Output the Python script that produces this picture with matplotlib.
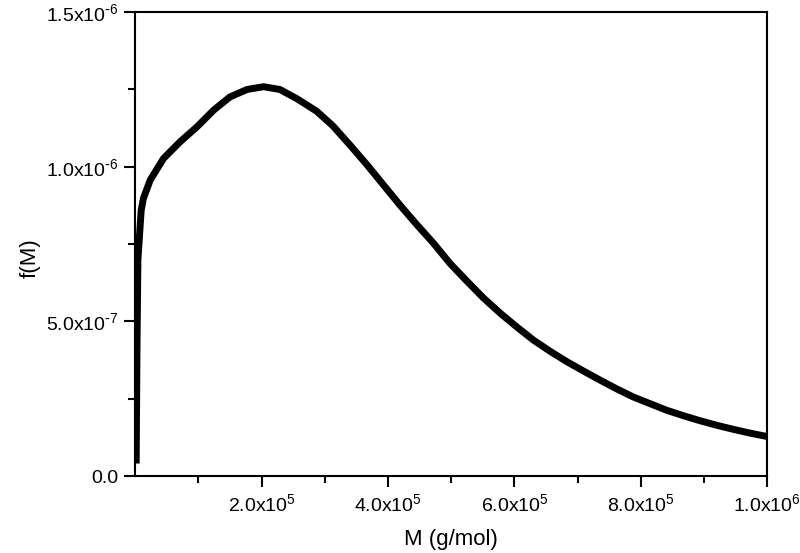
import matplotlib
matplotlib.use("Agg")
import matplotlib.pyplot as plt
from matplotlib.ticker import FixedLocator, FixedFormatter

# --- data (M in g/mol, f(M)) ---
M = [1.6e3, 2.8e3, 4.3e3, 9.5e3, 13e3, 23.7e3, 44.8e3, 71e3, 97.6e3, 124e3,
     150e3, 177e3, 203e3, 229e3, 256e3, 287e3, 313e3, 340e3, 367e3, 393e3,
     419e3, 446e3, 472e3, 498e3, 525e3, 551e3, 578e3, 604e3, 630e3, 657e3,
     683e3, 710e3, 736e3, 762e3, 788e3, 815e3, 841e3, 868e3, 894e3, 921e3,
     947e3, 973e3, 1000e3]
fM = [0.052e-6, 0.41e-6, 0.70e-6, 0.86e-6, 0.898e-6, 0.957e-6, 1.027e-6,
      1.081e-6, 1.129e-6, 1.183e-6, 1.226e-6, 1.250e-6, 1.259e-6, 1.250e-6,
      1.220e-6, 1.180e-6, 1.132e-6, 1.070e-6, 1.006e-6, 0.941e-6, 0.876e-6,
      0.812e-6, 0.753e-6, 0.688e-6, 0.630e-6, 0.576e-6, 0.526e-6, 0.482e-6,
      0.440e-6, 0.403e-6, 0.370e-6, 0.339e-6, 0.310e-6, 0.282e-6, 0.256e-6,
      0.234e-6, 0.213e-6, 0.195e-6, 0.179e-6, 0.164e-6, 0.151e-6, 0.139e-6,
      0.128e-6]

x_major = [2e5, 4e5, 6e5, 8e5, 1e6]
x_minor = [1e5, 3e5, 5e5, 7e5, 9e5]
x_labels = [r"2.0x10$^{5}$", r"4.0x10$^{5}$", r"6.0x10$^{5}$", r"8.0x10$^{5}$", r"1.0x10$^{6}$"]
y_major = [0, 5e-7, 1e-6, 1.5e-6]
y_minor = [2.5e-7, 7.5e-7, 1.25e-6]
y_labels = ["0.0", r"5.0x10$^{\text{-}7}$", r"1.0x10$^{\text{-}6}$", r"1.5x10$^{\text{-}6}$"]

plt.rcParams["font.family"] = ["Liberation Sans", "DejaVu Sans"]
plt.rcParams["mathtext.default"] = "regular"

fig = plt.figure(figsize=(8, 5.53), dpi=100)
ax = fig.add_axes([0.169, 0.139, 0.79, 0.839])

ax.plot(M, fM, color="black", linewidth=5, solid_joinstyle="round")

ax.set_xlim(0, 1e6)
ax.set_ylim(0, 1.5e-6)

ax.xaxis.set_major_locator(FixedLocator(x_major))
ax.xaxis.set_major_formatter(FixedFormatter(x_labels))
ax.xaxis.set_minor_locator(FixedLocator(x_minor))
ax.yaxis.set_major_locator(FixedLocator(y_major))
ax.yaxis.set_major_formatter(FixedFormatter(y_labels))
ax.yaxis.set_minor_locator(FixedLocator(y_minor))

ax.tick_params(which="both", direction="out", width=1.5, labelsize=14,
               top=False, right=False)
ax.tick_params(which="major", length=8, pad=4)
ax.tick_params(which="minor", length=5)
for s in ax.spines.values():
    s.set_linewidth(1.5)

ax.set_xlabel("M (g/mol)", fontsize=16, labelpad=10)
ax.set_ylabel("f(M)", fontsize=16)
ax.yaxis.set_label_coords(-0.149, 0.47)

fig.savefig("out.png", dpi=100)
